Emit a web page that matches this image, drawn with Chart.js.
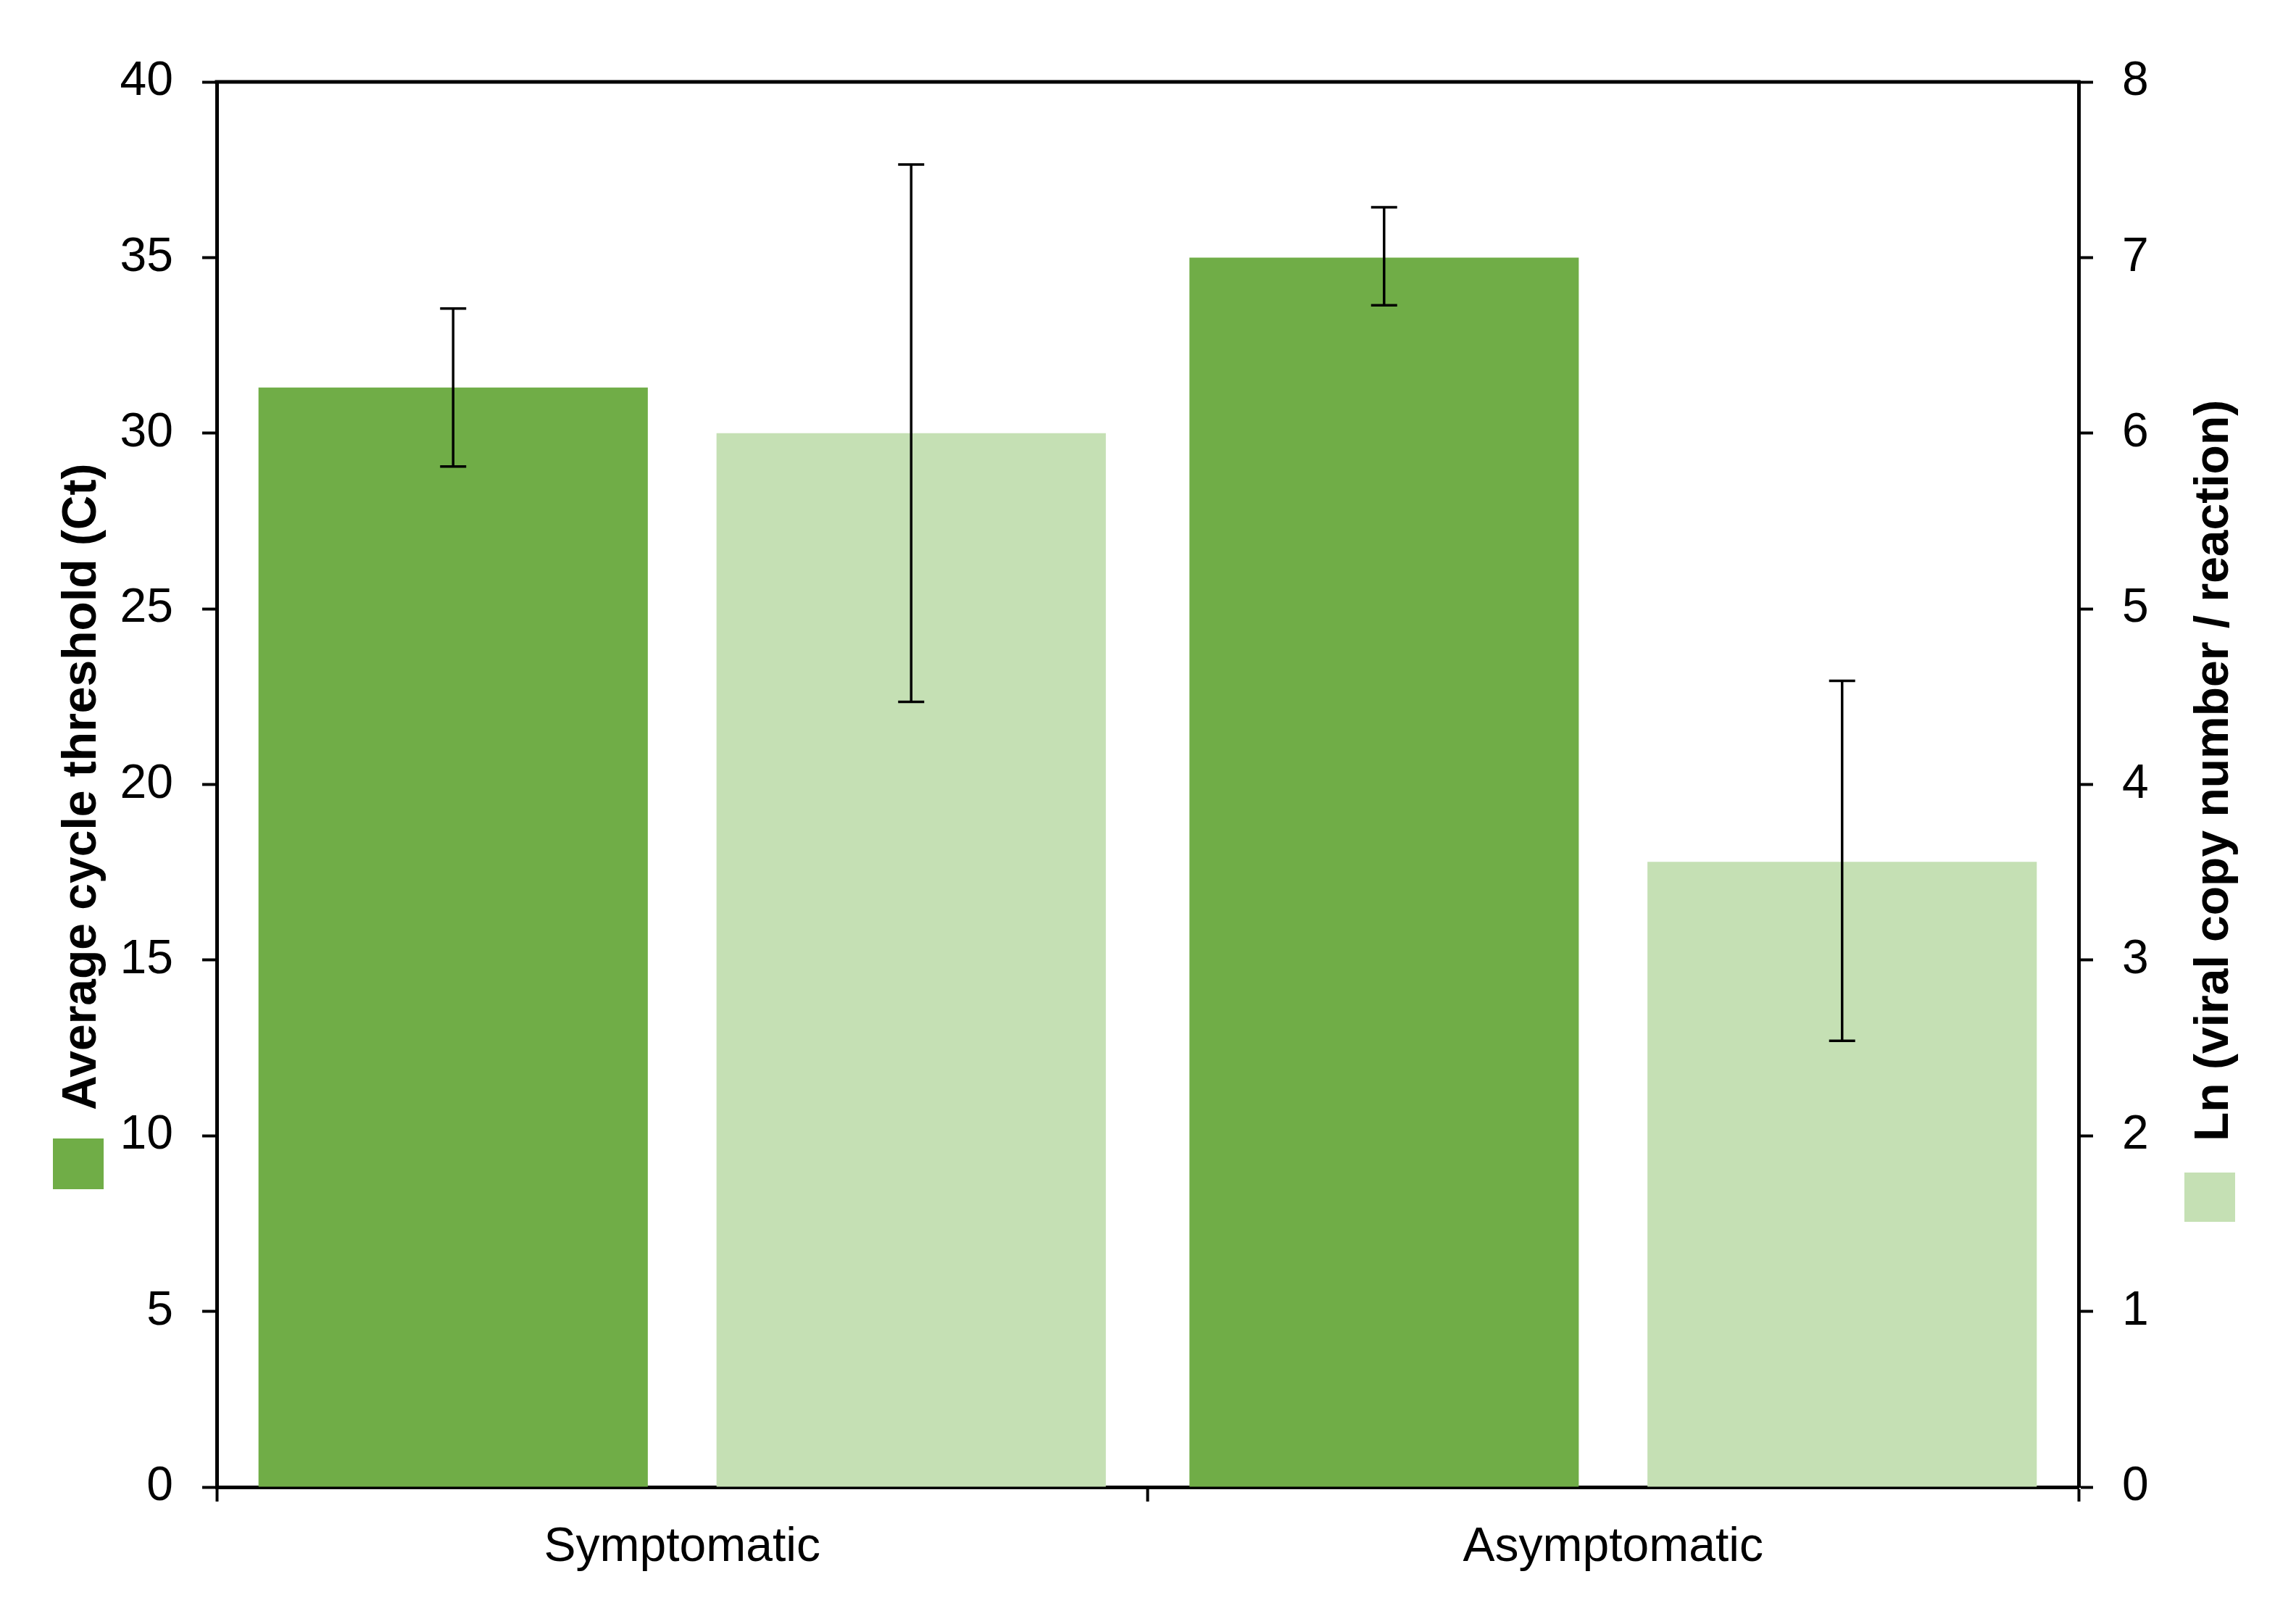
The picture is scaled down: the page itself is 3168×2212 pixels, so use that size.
<!DOCTYPE html>
<html lang="en">
<head>
    <meta charset="UTF-8">
    <title>Ct and viral load</title>
    <style>
        body {
            margin: 0;
            background: #fff;
            overflow: hidden;
        }
        canvas {
            display: block;
        }
    </style>
</head>
<body>
    <canvas id="chart" width="3168" height="2212" style="width:3168px;height:2212px"></canvas>

    <script src="https://cdn.jsdelivr.net/npm/chart.js"></script>
    <script>
        const categories = ['Symptomatic', 'Asymptomatic'];

        // average Ct (left axis)
        const ctMean = [31.3, 35.0];
        const ctLow = [29.05, 33.64];
        const ctHigh = [33.55, 36.43];

        // Ln viral copy number (right axis)
        const lnMean = [6.0, 3.56];
        const lnLow = [4.47, 2.54];
        const lnHigh = [7.53, 4.59];

        const leftTicks = [0, 5, 10, 15, 20, 25, 30, 35, 40];
        const rightTicks = [0, 1, 2, 3, 4, 5, 6, 7, 8];

        const leftTitle = 'Average cycle threshold (Ct)';
        const rightTitle = 'Ln (viral copy number / reaction)';

        const darkGreen = '#70AD47';
        const lightGreen = '#C5E0B4';
        const FONT = '"Liberation Sans", Arial, sans-serif';

        const errorBars = {
            id: 'errorBars',
            afterDatasetsDraw(chart) {
                const ctx = chart.ctx;
                ctx.save();
                ctx.strokeStyle = '#000';
                ctx.lineWidth = 3.5;
                chart.data.datasets.forEach((ds, i) => {
                    const meta = chart.getDatasetMeta(i);
                    const scale = chart.scales[meta.yAxisID];
                    meta.data.forEach((bar, j) => {
                        const yLo = scale.getPixelForValue(ds.errLow[j]);
                        const yHi = scale.getPixelForValue(ds.errHigh[j]);
                        ctx.beginPath();
                        ctx.moveTo(bar.x, yLo);
                        ctx.lineTo(bar.x, yHi);
                        ctx.moveTo(bar.x - 18, yLo);
                        ctx.lineTo(bar.x + 18, yLo);
                        ctx.moveTo(bar.x - 18, yHi);
                        ctx.lineTo(bar.x + 18, yHi);
                        ctx.stroke();
                    });
                });
                ctx.restore();
            }
        };

        // top frame line, rotated axis titles with their colour keys
        const frameAndTitles = {
            id: 'frameAndTitles',
            afterDraw(chart) {
                const ctx = chart.ctx;
                const area = chart.chartArea;
                ctx.save();
                ctx.strokeStyle = '#000';
                ctx.lineWidth = 5;
                ctx.beginPath();
                ctx.moveTo(area.left - 2.5, area.top);
                ctx.lineTo(area.right + 2.5, area.top);
                ctx.stroke();

                ctx.fillStyle = '#000';
                ctx.font = 'bold 66px ' + FONT;
                ctx.textAlign = 'left';
                ctx.textBaseline = 'alphabetic';

                ctx.save();
                ctx.translate(132, 1532);
                ctx.rotate(-Math.PI / 2);
                ctx.fillText(leftTitle, 0, 0);
                ctx.restore();

                ctx.save();
                ctx.translate(3074, 1575);
                ctx.rotate(-Math.PI / 2);
                ctx.fillText(rightTitle, 0, 0);
                ctx.restore();

                ctx.fillStyle = darkGreen;
                ctx.fillRect(73, 1571, 70, 70);
                ctx.fillStyle = lightGreen;
                ctx.fillRect(3014, 1618, 70, 68);
                ctx.restore();
            }
        };

        const axisGrid = {
            drawOnChartArea: false,
            drawTicks: true,
            tickLength: 20,
            tickWidth: 4,
            tickColor: '#000'
        };
        const axisBorder = { display: true, color: '#000', width: 5 };
        const tickFont = { family: FONT, size: 66 };

        new Chart(document.getElementById('chart'), {
            type: 'bar',
            data: {
                labels: categories,
                datasets: [
                    {
                        label: leftTitle,
                        data: ctMean,
                        errLow: ctLow,
                        errHigh: ctHigh,
                        backgroundColor: darkGreen,
                        yAxisID: 'y'
                    },
                    {
                        label: rightTitle,
                        data: lnMean,
                        errLow: lnLow,
                        errHigh: lnHigh,
                        backgroundColor: lightGreen,
                        yAxisID: 'y2'
                    }
                ]
            },
            options: {
                responsive: false,
                devicePixelRatio: 1,
                animation: false,
                layout: { padding: { top: 113, left: 0, right: 0, bottom: 0 } },
                datasets: {
                    bar: { categoryPercentage: 0.984, barPercentage: 0.85 }
                },
                plugins: {
                    legend: { display: false },
                    tooltip: { enabled: false }
                },
                scales: {
                    x: {
                        grid: axisGrid,
                        border: axisBorder,
                        ticks: { color: '#000', font: tickFont, padding: 24 },
                        afterFit: s => { s.height = 160; }
                    },
                    y: {
                        position: 'left',
                        min: 0,
                        max: 40,
                        afterBuildTicks: s => { s.ticks = leftTicks.map(v => ({ value: v })); },
                        grid: axisGrid,
                        border: axisBorder,
                        ticks: { color: '#000', font: tickFont, padding: 40 },
                        afterFit: s => { s.width = 299; }
                    },
                    y2: {
                        position: 'right',
                        min: 0,
                        max: 8,
                        afterBuildTicks: s => { s.ticks = rightTicks.map(v => ({ value: v })); },
                        grid: axisGrid,
                        border: axisBorder,
                        ticks: { color: '#000', font: tickFont, padding: 40 },
                        afterFit: s => { s.width = 300; }
                    }
                }
            },
            plugins: [errorBars, frameAndTitles]
        });
    </script>
</body>
</html>
